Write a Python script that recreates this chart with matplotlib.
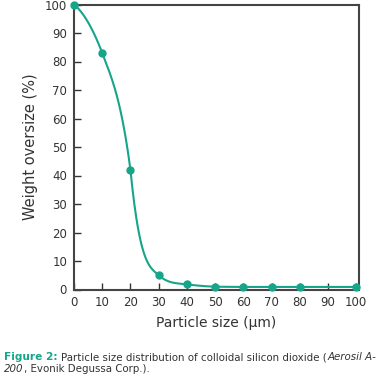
import numpy as np
import matplotlib
matplotlib.use("Agg")
import matplotlib.pyplot as plt

# data
size_um = [0, 10, 20, 30, 40, 50, 60, 70, 80, 100]
oversize_pct = [100, 83, 42, 5, 1.8, 1.0, 0.9, 0.9, 0.9, 0.9]
x_ticks = [0, 10, 20, 30, 40, 50, 60, 70, 80, 90, 100]
y_ticks = [0, 10, 20, 30, 40, 50, 60, 70, 80, 90, 100]

teal = "#17a589"
dark = "#333333"

# tangents (left, right) used to draw the smooth guide line through the points
tangents = [(-0.8, -0.8), (-2.6, -2.6), (-7.5, -10.0), (-0.9, -0.9),
            (-0.12, -0.12), (-0.02, -0.02), (0, 0), (0, 0), (0, 0), (0, 0)]


def hermite_curve(x, y, slopes, n=60):
    xs_all, ys_all = [], []
    for k in range(len(x) - 1):
        h = x[k + 1] - x[k]
        t = np.linspace(0, 1, n)
        h00 = 2 * t**3 - 3 * t**2 + 1
        h10 = t**3 - 2 * t**2 + t
        h01 = -2 * t**3 + 3 * t**2
        h11 = t**3 - t**2
        yy = (h00 * y[k] + h10 * h * slopes[k][1]
              + h01 * y[k + 1] + h11 * h * slopes[k + 1][0])
        xs_all.append(x[k] + t * h)
        ys_all.append(yy)
    return np.concatenate(xs_all), np.concatenate(ys_all)


fig = plt.figure(figsize=(3.81, 3.77), dpi=100)
ax = fig.add_axes([74 / 381, 1 - 289.5 / 377, 285 / 381, 285 / 377])

cx, cy = hermite_curve(size_um, oversize_pct, tangents)
ax.plot(cx, cy, color=teal, lw=1.5, clip_on=False)
ax.plot(size_um, oversize_pct, "o", color=teal, ms=5, clip_on=False, zorder=5)

ax.set_xlim(0, 101)
ax.set_ylim(0, 100)
ax.set_xticks(x_ticks)
ax.set_yticks(y_ticks)
ax.tick_params(direction="in", length=5, width=1, color=dark,
               labelsize=8.5, labelcolor=dark)
ax.tick_params(axis="x", pad=5)
ax.tick_params(axis="y", pad=5)
for s in ax.spines.values():
    s.set_color("#444444")
    s.set_linewidth(1.5)

ax.set_xlabel("Particle size (μm)", fontsize=10, color=dark, labelpad=5)
ax.set_ylabel("Weight oversize (%)", fontsize=10.5, color=dark, labelpad=5)

# caption, built in pieces so the bold/italic parts line up
cap = dict(fontsize=7.4, color=dark, va="bottom")
t = fig.text(0.011, 1 - 362 / 377, "Figure 2: ", fontweight="bold",
             fontsize=7.6, color=teal, va="bottom")
t = ax.annotate("Particle size distribution of colloidal silicon dioxide (",
                xy=(1, 0), xycoords=t, **cap)
t = ax.annotate("Aerosil A-", xy=(1, 0), xycoords=t, style="italic", **cap)
t = fig.text(0.011, 1 - 374 / 377, "200", style="italic", **cap)
ax.annotate(", Evonik Degussa Corp.).", xy=(1, 0), xycoords=t, **cap)

plt.savefig("out.png", dpi=100)
